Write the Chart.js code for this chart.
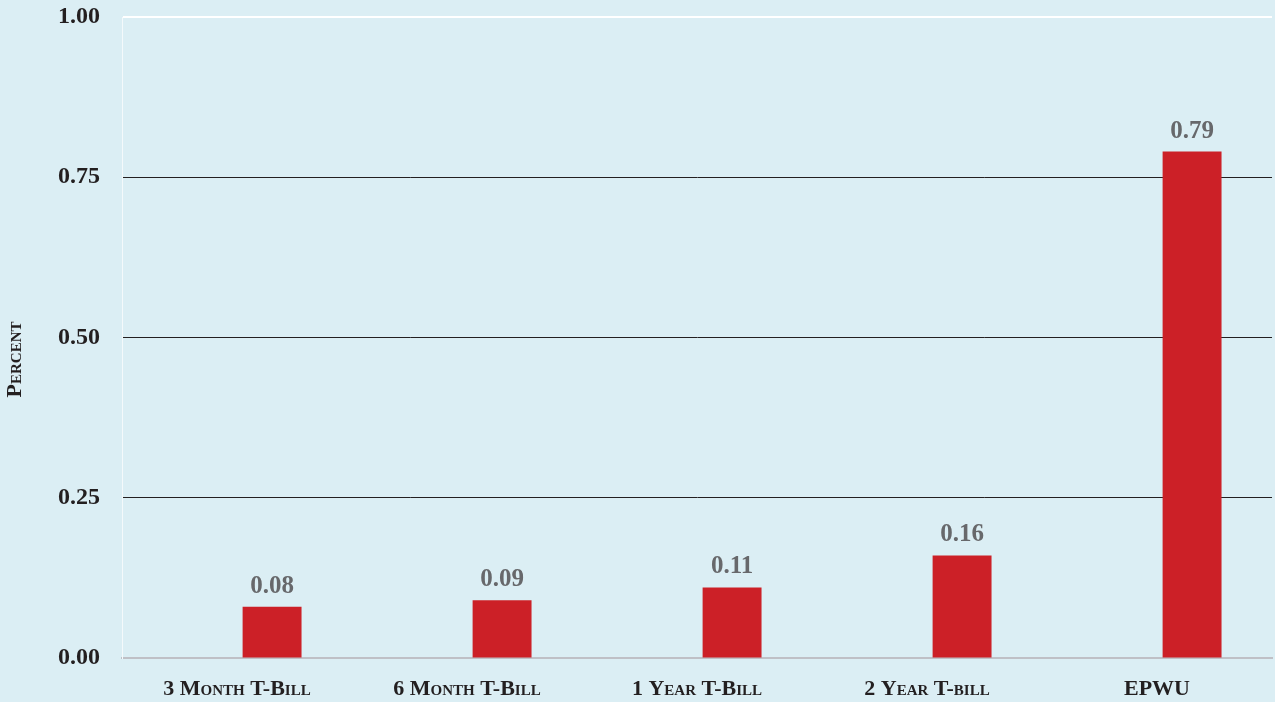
<!DOCTYPE html>
<html>
<head>
<meta charset="utf-8">
<script src="https://cdn.jsdelivr.net/npm/chart.js@4/dist/chart.umd.min.js"></script>
<style>
  html, body { margin: 0; padding: 0; background: #dbeef4; }
</style>
</head>
<body>
<canvas id="c" width="1275" height="702"></canvas>
<script>
const categories = ["3 Month T-Bill", "6 Month T-Bill", "1 Year T-Bill", "2 Year T-bill", "EPWU"];
const values = [0.08, 0.09, 0.11, 0.16, 0.79];
const blanks = [null, null, null, null, null];

const serif = "'Liberation Serif', 'DejaVu Serif', serif";

// value labels above bars
const barLabels = {
  id: "barLabels",
  afterDatasetsDraw(chart) {
    const ctx = chart.ctx;
    const meta = chart.getDatasetMeta(1);
    ctx.save();
    ctx.font = "bold 25px " + serif;
    ctx.fillStyle = "#67686b";
    ctx.textAlign = "center";
    ctx.textBaseline = "alphabetic";
    meta.data.forEach((bar, i) => {
      ctx.fillText(values[i].toFixed(2), bar.x, bar.y - 14);
    });
    ctx.restore();
  }
};

new Chart(document.getElementById("c"), {
  type: "bar",
  data: {
    labels: categories,
    datasets: [
      { data: blanks, backgroundColor: "#cc2027" },
      { data: values, backgroundColor: "#cc2027" }
    ]
  },
  options: {
    responsive: false,
    animation: false,
    categoryPercentage: 0.61,
    barPercentage: 0.84,
    layout: { padding: { top: 17, right: 3 } },
    plugins: {
      legend: { display: false },
      tooltip: { enabled: false }
    },
    scales: {
      x: {
        grid: { display: false, drawTicks: false },
        border: { display: true, color: "#bfc0c6", width: 2 },
        ticks: {
          padding: 18,
          color: "#231f20",
          font: { family: serif, size: 22, weight: "small-caps bold" }
        },
        afterFit(scale) { scale.height = 44; }
      },
      y: {
        min: 0,
        max: 1,
        grid: {
          drawTicks: true,
          tickLength: 22,
          tickColor: "rgba(0,0,0,0)",
          color: (c) => c.tick.value === 1 ? "#ffffff" : (c.tick.value === 0 ? "rgba(0,0,0,0)" : "#231f20"),
          lineWidth: (c) => c.tick.value === 1 ? 2 : 1
        },
        border: { display: true, color: "#f4f9fb", width: 1 },
        ticks: {
          stepSize: 0.25,
          padding: 0,
          color: "#231f20",
          font: { family: serif, size: 24, weight: "bold" },
          callback: (v) => Number(v).toFixed(2)
        },
        title: {
          display: true,
          text: "Percent        ",
          color: "#231f20",
          padding: { top: 2, bottom: 0 },
          font: { family: serif, size: 22, weight: "small-caps bold" }
        },
        afterFit(scale) { scale.width = 122; }
      }
    }
  },
  plugins: [barLabels]
});
</script>
</body>
</html>
